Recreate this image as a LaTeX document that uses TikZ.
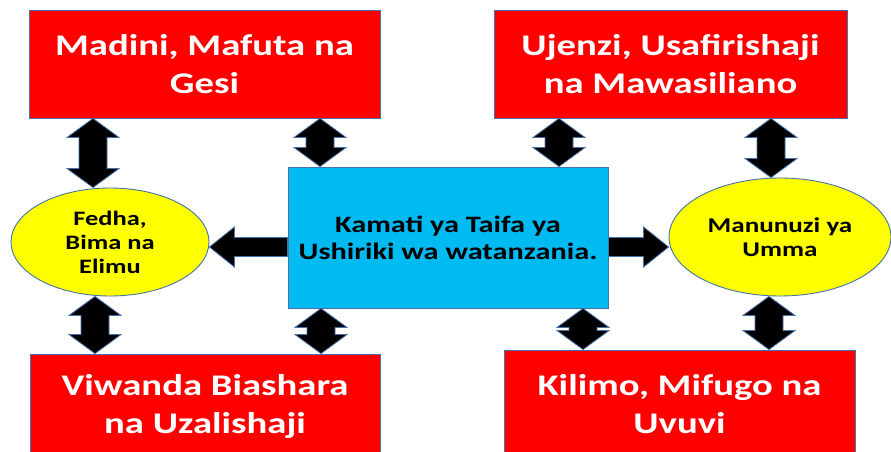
\documentclass[tikz,border=0pt]{standalone}
\usepackage{fontspec}
\setmainfont{Carlito}[FakeStretch=1.29]
\usetikzlibrary{calc,shapes.geometric}
\definecolor{boxred}{RGB}{255,0,0}
\definecolor{boxblue}{RGB}{0,186,242}
\definecolor{elyellow}{RGB}{255,255,0}
\definecolor{edgeblue}{RGB}{70,114,170}
\tikzset{
  redbox/.style={rectangle, draw=edgeblue, line width=0.9pt, fill=boxred, text=white,
    font=\bfseries\fontsize{30}{38}\selectfont, align=center, inner sep=0pt},
  bluebox/.style={rectangle, draw=edgeblue, line width=0.9pt, fill=boxblue, text=black,
    font=\bfseries\fontsize{23.5}{27}\selectfont, align=center, inner sep=0pt},
  yell/.style={ellipse, draw=edgeblue, line width=0.9pt, fill=elyellow, text=black,
    align=center, inner sep=0pt},
  blockarrow/.style={draw=edgeblue, fill=black, line width=0.8pt, line join=miter},
  vdarrow/.style={blockarrow, to path={
    let \p1=(\tikztostart), \p2=(\tikztotarget) in
    (\x1,\y1) -- (\x1+26pt,\y1-19pt) -- (\x1+14pt,\y1-19pt) -- (\x1+14pt,\y2+19pt)
    -- (\x1+26pt,\y2+19pt) -- (\x1,\y2) -- (\x1-26pt,\y2+19pt) -- (\x1-14pt,\y2+19pt)
    -- (\x1-14pt,\y1-19pt) -- (\x1-26pt,\y1-19pt) -- cycle}},
  larrow/.style={blockarrow, to path={
    let \p1=(\tikztostart), \p2=(\tikztotarget) in
    (\x1,\y1+9.5pt) -- (\x2+25pt,\y1+9.5pt) -- (\x2+25pt,\y1+20pt) -- (\x2,\y1)
    -- (\x2+25pt,\y1-20pt) -- (\x2+25pt,\y1-9.5pt) -- (\x1,\y1-9.5pt) -- cycle}},
  rarrow/.style={blockarrow, to path={
    let \p1=(\tikztostart), \p2=(\tikztotarget) in
    (\x1,\y1+9.5pt) -- (\x2-25pt,\y1+9.5pt) -- (\x2-25pt,\y1+20pt) -- (\x2,\y1)
    -- (\x2-25pt,\y1-20pt) -- (\x2-25pt,\y1-9.5pt) -- (\x1,\y1-9.5pt) -- cycle}},
}
\begin{document}
\begin{tikzpicture}[x=1pt,y=-1pt]
\clip (0,0) rectangle (891,452);
\fill[white] (0,0) rectangle (891,452);
% boxes
\node[redbox, minimum width=351pt, minimum height=108pt] (tl) at (204.5,64) {Madini, Mafuta na\\Gesi};
\node[redbox, minimum width=353pt, minimum height=108pt] (tr) at (670.5,64) {Ujenzi, Usafirishaji\\na Mawasiliano};
\node[bluebox, minimum width=320pt, minimum height=141pt] (c) at (448,237.5) {Kamati ya Taifa ya\\Ushiriki wa watanzania.};
\node[yell, minimum width=198pt, minimum height=108pt, font=\bfseries\fontsize{20.5}{24}\selectfont] (fe) at (110,242) {Fedha,\\Bima na\\Elimu};
\node[yell, minimum width=222pt, minimum height=118pt, font=\bfseries\fontsize{21}{23.5}\selectfont] (mu) at (780,237) {Manunuzi ya\\Umma};
\node[redbox, minimum width=350pt, minimum height=105pt] (bl) at (205,406.5) {Viwanda Biashara\\na Uzalishaji};
\node[redbox, minimum width=351pt, minimum height=109pt] (br) at (679.5,404.5) {Kilimo, Mifugo na\\Uvuvi};
% arrow columns
\coordinate (ca) at (93,0);
\coordinate (cb) at (95,0);
\coordinate (cc) at (320,0);
\coordinate (cd) at (321,0);
\coordinate (ce) at (559,0);
\coordinate (cf) at (583,0);
\coordinate (cg) at (771,0);
\coordinate (ch) at (769,0);
\coordinate (ly) at (0,247);
% connectors
\draw[vdarrow] (tl.south -| ca) to (fe.north -| ca);
\draw[vdarrow] (tl.south -| cc) to (c.north -| cc);
\draw[vdarrow] (tr.south -| ce) to (c.north -| ce);
\draw[vdarrow] (tr.south -| cg) to (mu.north -| cg);
\draw[vdarrow] (fe.south -| cb) to (bl.north -| cb);
\draw[vdarrow] (c.south -| cd) to (bl.north -| cd);
\draw[vdarrow] (c.south -| cf) to (br.north -| cf);
\draw[vdarrow] (mu.south -| ch) to (br.north -| ch);
\draw[larrow] (c.west |- ly) to (fe.east |- ly);
\draw[rarrow] (c.east |- ly) to (mu.west |- ly);
\end{tikzpicture}
\end{document}
